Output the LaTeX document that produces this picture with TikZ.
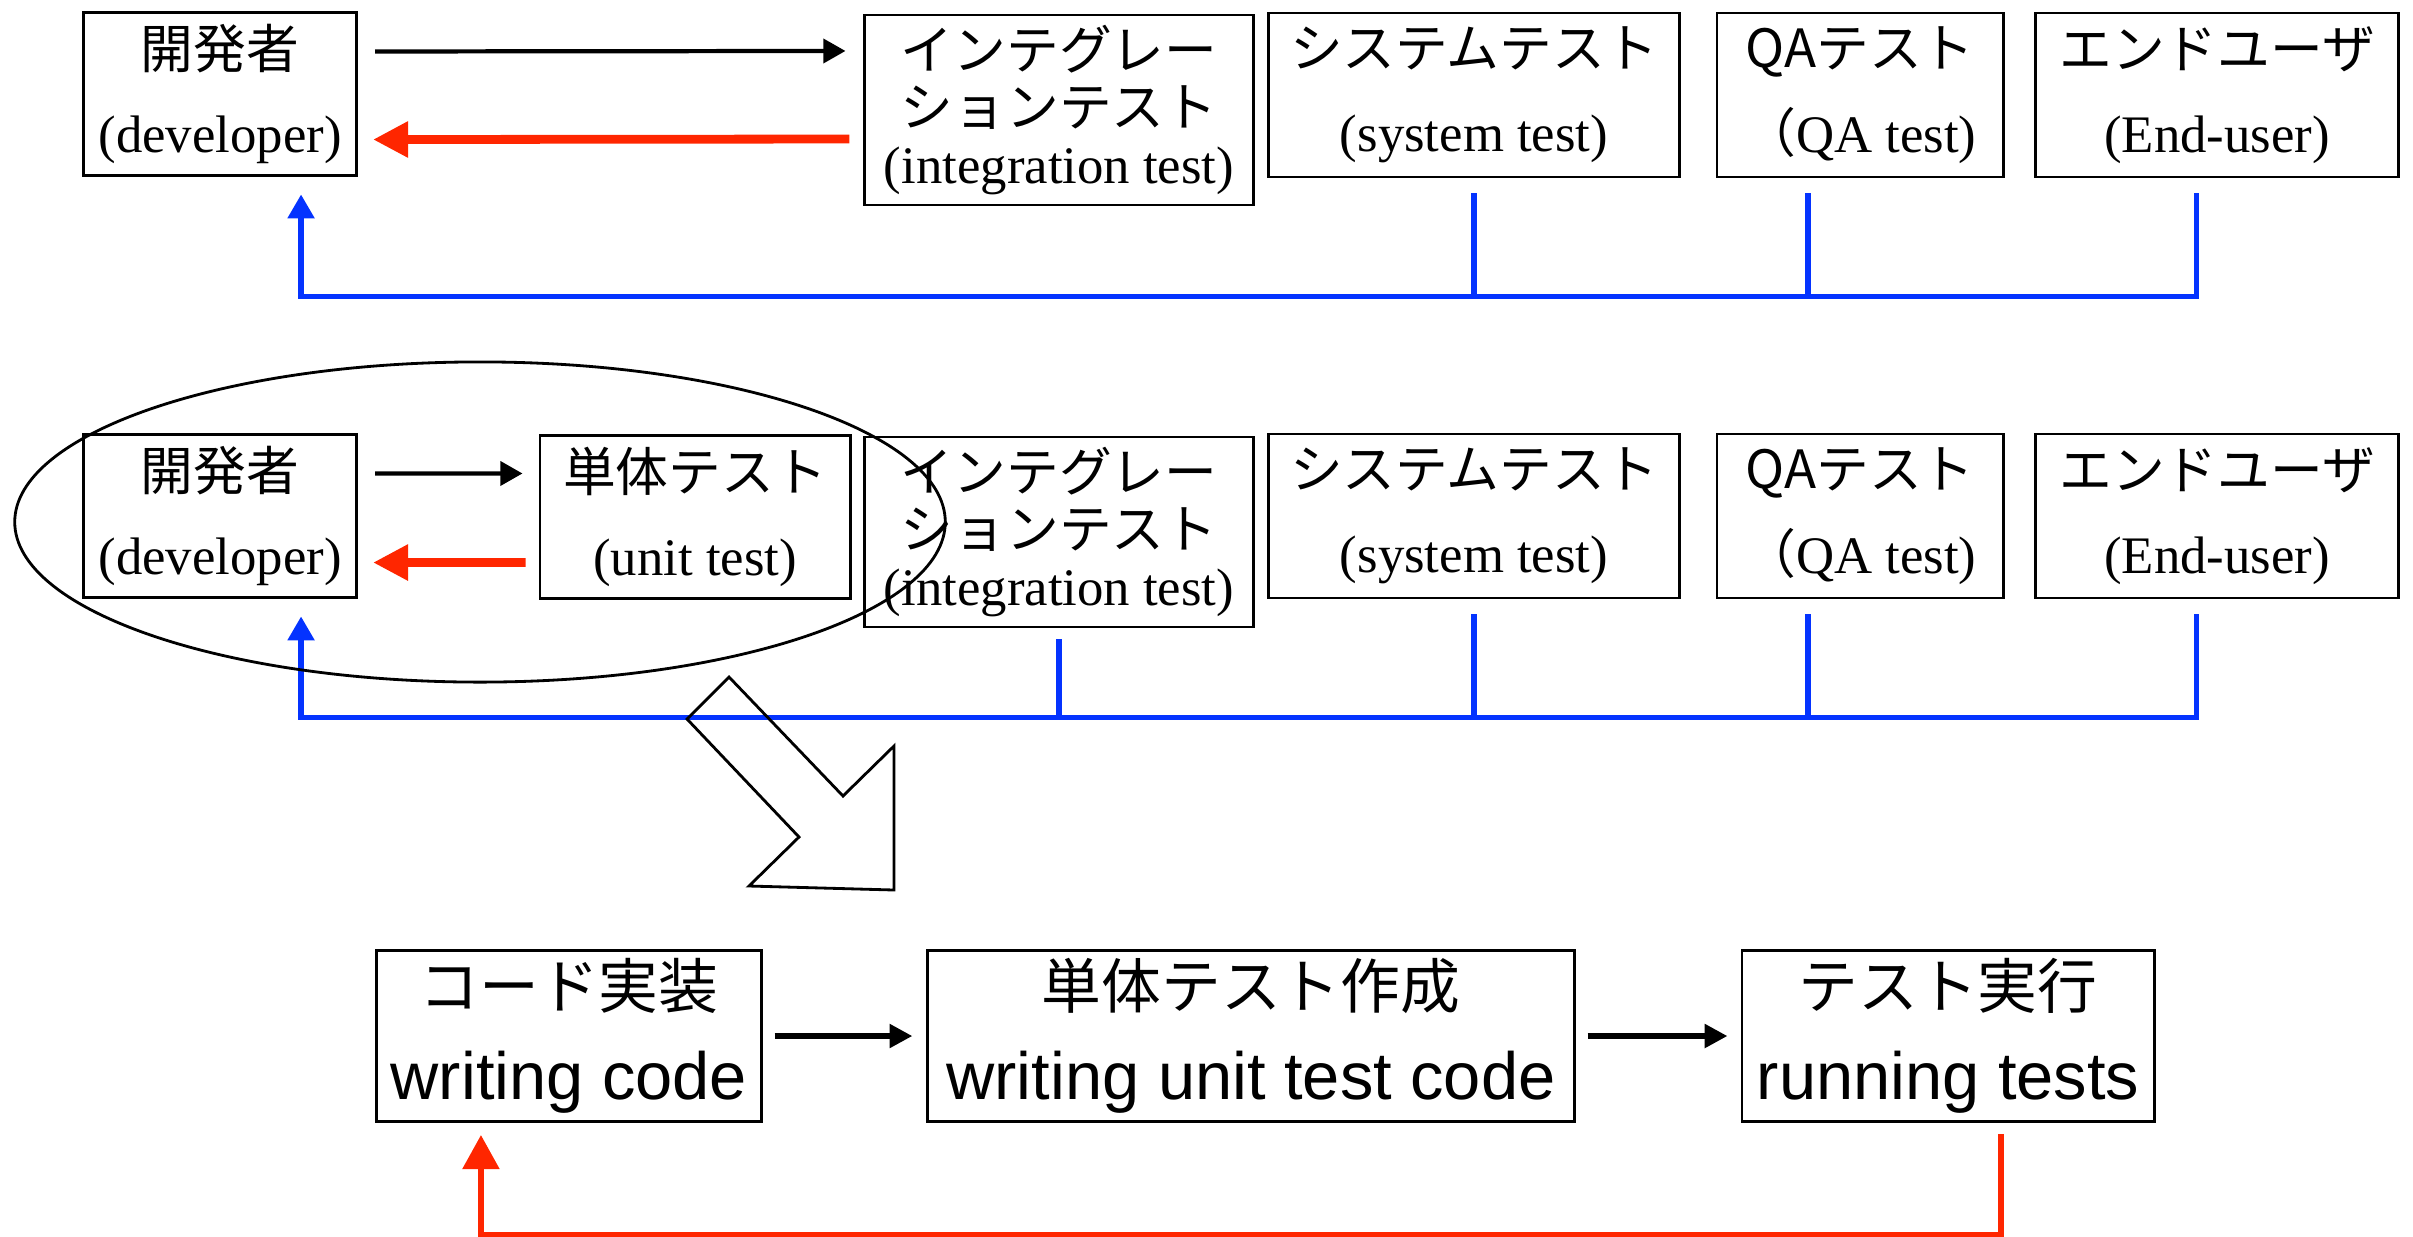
\documentclass[tikz,border=0pt]{standalone}
\usepackage{fontspec}
\setmainfont{Liberation Serif}
\newfontfamily\jp{Noto Sans CJK JP}
\newfontfamily\gothic{Liberation Sans}
\usepackage{tikz}
\usetikzlibrary{arrows.meta, calc}
\usepackage{xcolor}
\definecolor{fbred}{RGB}{255,38,0}
\definecolor{fbblue}{RGB}{4,51,255}

\begin{document}
\begin{tikzpicture}[x=0.01cm, y=-0.01cm,
  stage/.style={draw, line width=0.8pt, align=center, inner sep=0pt, font=\fontsize{15}{24}\selectfont},
  task/.style={draw, line width=0.8pt, align=center, inner sep=0pt, minimum height=1.71cm, font=\jp\fontsize{17}{26}\selectfont},
  fwd/.style={line width=1.2pt, -{Triangle[length=6.3pt, width=6.8pt]}},
  back/.style={fbred, line width=2.5pt, -{Triangle[length=10pt, width=9.7pt]}},
  fb/.style={fbblue, line width=1.5pt},
  fbtip/.style={-{Triangle[length=6.8pt, width=7.4pt]}}]
  \useasboundingbox (0,0) rectangle (2413,1236);
  % Top row: developer -> integration test
  \node[stage, minimum width=2.73cm, minimum height=1.63cm] (dev1) at (220,94) {{\jp 開発者}\\(developer)};
  \node[stage, minimum width=3.88cm, minimum height=1.90cm, font=\fontsize{15}{16.3}\selectfont] (int1) at (1059,110)
    {{\jp インテグレー}\\{\jp ションテスト}\\(integration test)};
  % Second row: developer -> unit test
  \node[stage, minimum width=2.73cm, minimum height=1.63cm] (dev2) at (220,516) {{\jp 開発者}\\(developer)};
  \node[stage, minimum width=3.10cm, minimum height=1.63cm] (unit2) at (695,517) {{\jp 単体テスト}\\(unit test)};
  \node[stage, minimum width=3.88cm, minimum height=1.90cm, font=\fontsize{15}{16.3}\selectfont] (int2) at (1059,532)
    {{\jp インテグレー}\\{\jp ションテスト}\\(integration test)};
  % Later stages, same in both rows
  \foreach \r/\y in {1/95, 2/516} {
    \node[stage, minimum width=4.10cm, minimum height=1.64cm] (sys\r) at (1474,\y) {{\jp システムテスト}\\(system test)};
    \node[stage, minimum width=2.86cm, minimum height=1.64cm] (qa\r) at (1860,\y) {{\jp QAテスト}\\{\jp （}QA test)};
    \node[stage, minimum width=3.63cm, minimum height=1.64cm] (end\r) at (2217,\y) {{\jp エンドユーザ}\\(End-user)};
  }
  % Hand-over and rework
  \draw[fwd] ([xshift=1.7mm,yshift=4.25mm]dev1.east) -- ([xshift=-1.8mm,yshift=5.9mm]int1.west);
  \draw[back] ([xshift=-1.4mm,yshift=-2.9mm]int1.west) -- ([xshift=1.5mm,yshift=-4.55mm]dev1.east);
  \draw[fwd] ([xshift=1.7mm,yshift=4.25mm]dev2.east) -- ([xshift=-1.6mm,yshift=4.35mm]unit2.west);
  \draw[back] ([xshift=-1.3mm,yshift=-4.55mm]unit2.west) -- ([xshift=1.5mm,yshift=-4.65mm]dev2.east);
  % Feedback to the developer
  \foreach \r in {1,2} {
    \draw[fb] ([yshift=-1.5mm]sys\r.south) -- ++(0,-1.03cm);
    \draw[fb] ([xshift=-5.2mm,yshift=-1.5mm]qa\r.south) -- ++(0,-1.03cm);
    \draw[fb, fbtip] ([xshift=-2.05mm,yshift=-1.5mm]end\r.south) -- ++(0,-1.03cm)
      -| ([xshift=8.1mm,yshift=-1.75mm]dev\r.south);
  }
  \draw[fb] ([yshift=-1.1mm]int2.south) -- ++(0,-0.79cm);
  % Ellipse round the unit test loop
  \draw[line width=0.8pt] (480,522) ellipse (4.65cm and 1.6cm);
  % Hollow arrow
  \draw[line width=0.8pt, line join=miter] (729,677) -- (687,719) -- (799,837) -- (749,886)
    -- (894,890) -- (894,746) -- (843,796) -- cycle;
  % Bottom row: the unit test cycle
  \node[task, minimum width=3.84cm] (code) at (569,1036) {コード実装\\{\gothic\fontsize{19}{26}\selectfont writing code}};
  \node[task, minimum width=6.46cm] (utest) at (1251,1036) {単体テスト作成\\{\gothic\fontsize{19}{26}\selectfont writing unit test code}};
  \node[task, minimum width=4.12cm] (run) at (1948,1036) {テスト実行\\{\gothic\fontsize{19}{26}\selectfont running tests}};
  \draw[line width=1.7pt, -{Triangle[length=6.5pt, width=6.5pt]}] ([xshift=1.2mm]code.east) -- ([xshift=-1.4mm]utest.west);
  \draw[line width=1.7pt, -{Triangle[length=6.5pt, width=6.5pt]}] ([xshift=1.2mm]utest.east) -- ([xshift=-1.3mm]run.west);
  \draw[fbred, line width=1.7pt, -{Triangle[length=9.7pt, width=10.2pt]}] ([xshift=5.3mm,yshift=-1.1mm]run.south)
    -- ++(0,-1.01cm) -| ([xshift=-8.8mm,yshift=-1.2mm]code.south);
\end{tikzpicture}
\end{document}
